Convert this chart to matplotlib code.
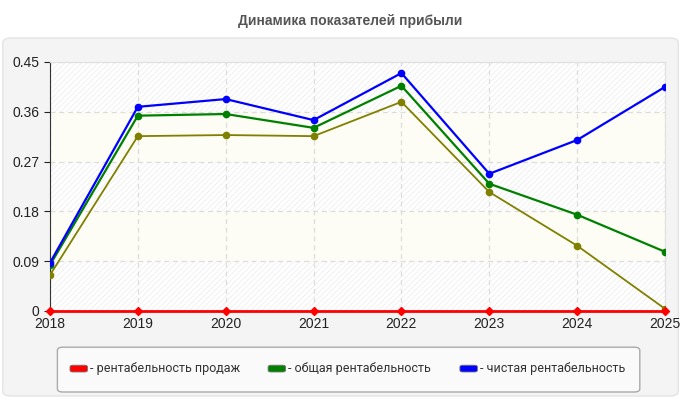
import matplotlib.pyplot as plt
from matplotlib.patches import FancyBboxPatch
import matplotlib as mpl

years = [2018, 2019, 2020, 2021, 2022, 2023, 2024, 2025]
sales = [0, 0, 0, 0, 0, 0, 0, 0]
total = [0.083, 0.353, 0.356, 0.331, 0.407, 0.230, 0.174, 0.107]
net = [0.087, 0.369, 0.383, 0.345, 0.430, 0.248, 0.309, 0.405]
other = [0.065, 0.316, 0.318, 0.316, 0.378, 0.215, 0.118, 0.004]
yticks = [0, 0.09, 0.18, 0.27, 0.36, 0.45]
ylabels = ['0', '0.09', '0.18', '0.27', '0.36', '0.45']

mpl.rcParams['font.family'] = ['Liberation Sans', 'DejaVu Sans']
mpl.rcParams['hatch.linewidth'] = 0.5

fig = plt.figure(figsize=(7, 4), dpi=100, facecolor='white')

# panel behind the chart
panel = FancyBboxPatch((0.004, 0.01), 0.965, 0.895, boxstyle='round,pad=0,rounding_size=0.012',
                       transform=fig.transFigure, facecolor='#f4f4f4', edgecolor='#e4e4e4', lw=1,
                       zorder=-10)
fig.patches.append(panel)

fig.text(0.5, 0.948, 'Динамика показателей прибыли', ha='center', va='center',
         fontsize=10, fontweight='bold', color='#555555')

ax = fig.add_axes([0.0714, 0.2225, 0.8786, 0.6225])
ax.set_zorder(1)
ax.set_facecolor('white')
ax.set_xlim(2018, 2025)
ax.set_ylim(0, 0.45)

# alternating bands: plain yellowish / faint hatch
for lo, hi in [(0.09, 0.18), (0.27, 0.36)]:
    ax.axhspan(lo, hi, color='#fdfdf5', zorder=0, lw=0)
for lo, hi in [(0, 0.09), (0.18, 0.27), (0.36, 0.45)]:
    ax.axhspan(lo, hi, facecolor='none', edgecolor='#ececec', hatch='//////', lw=0, zorder=0)

ax.grid(True, color='#dddddd', ls=(0, (4, 3)), lw=0.9, zorder=1)

ax.plot(years, other, color='#808000', lw=1.3, marker='o', ms=4.5, zorder=3)
ax.plot(years, total, color='#008000', lw=1.6, marker='o', ms=4.5, zorder=4)
ax.plot(years, net, color='#0000ff', lw=1.6, marker='o', ms=4.5, zorder=5)
ax.plot(years, sales, color='#ff0000', lw=2, marker='D', ms=4.5, zorder=6, clip_on=False)

ax.set_xticks(years)
ax.set_xticklabels([str(y) for y in years])
ax.set_yticks(yticks)
ax.set_yticklabels(ylabels)
ax.tick_params(labelsize=10, colors='#222222', length=4, width=0.8)
ax.tick_params(axis='x', length=0, pad=4)
for s in ['top', 'right']:
    ax.spines[s].set_color('#e0e0e0')
for s in ['left', 'bottom']:
    ax.spines[s].set_color('#333333')

# legend box
lb = FancyBboxPatch((0.082, 0.02), 0.832, 0.112, boxstyle='round,pad=0,rounding_size=0.008',
                    transform=fig.transFigure, facecolor='#fafafa', edgecolor='#aaaaaa', lw=1)
fig.patches.append(lb)
items = [('#ff0000', '- рентабельность продаж', 0.100),
         ('#008000', '- общая рентабельность', 0.383),
         ('#0000ff', '- чистая рентабельность', 0.657)]
for c, label, x in items:
    fig.patches.append(FancyBboxPatch((x, 0.070), 0.025, 0.017, boxstyle='round,pad=0,rounding_size=0.004',
                                      transform=fig.transFigure, facecolor=c, edgecolor='#777777', lw=0.6))
    fig.text(x + 0.028, 0.078, label, fontsize=9, color='#333333', va='center', ha='left',
             family=['Roboto', 'DejaVu Sans'])

fig.savefig('out.png', dpi=100)
